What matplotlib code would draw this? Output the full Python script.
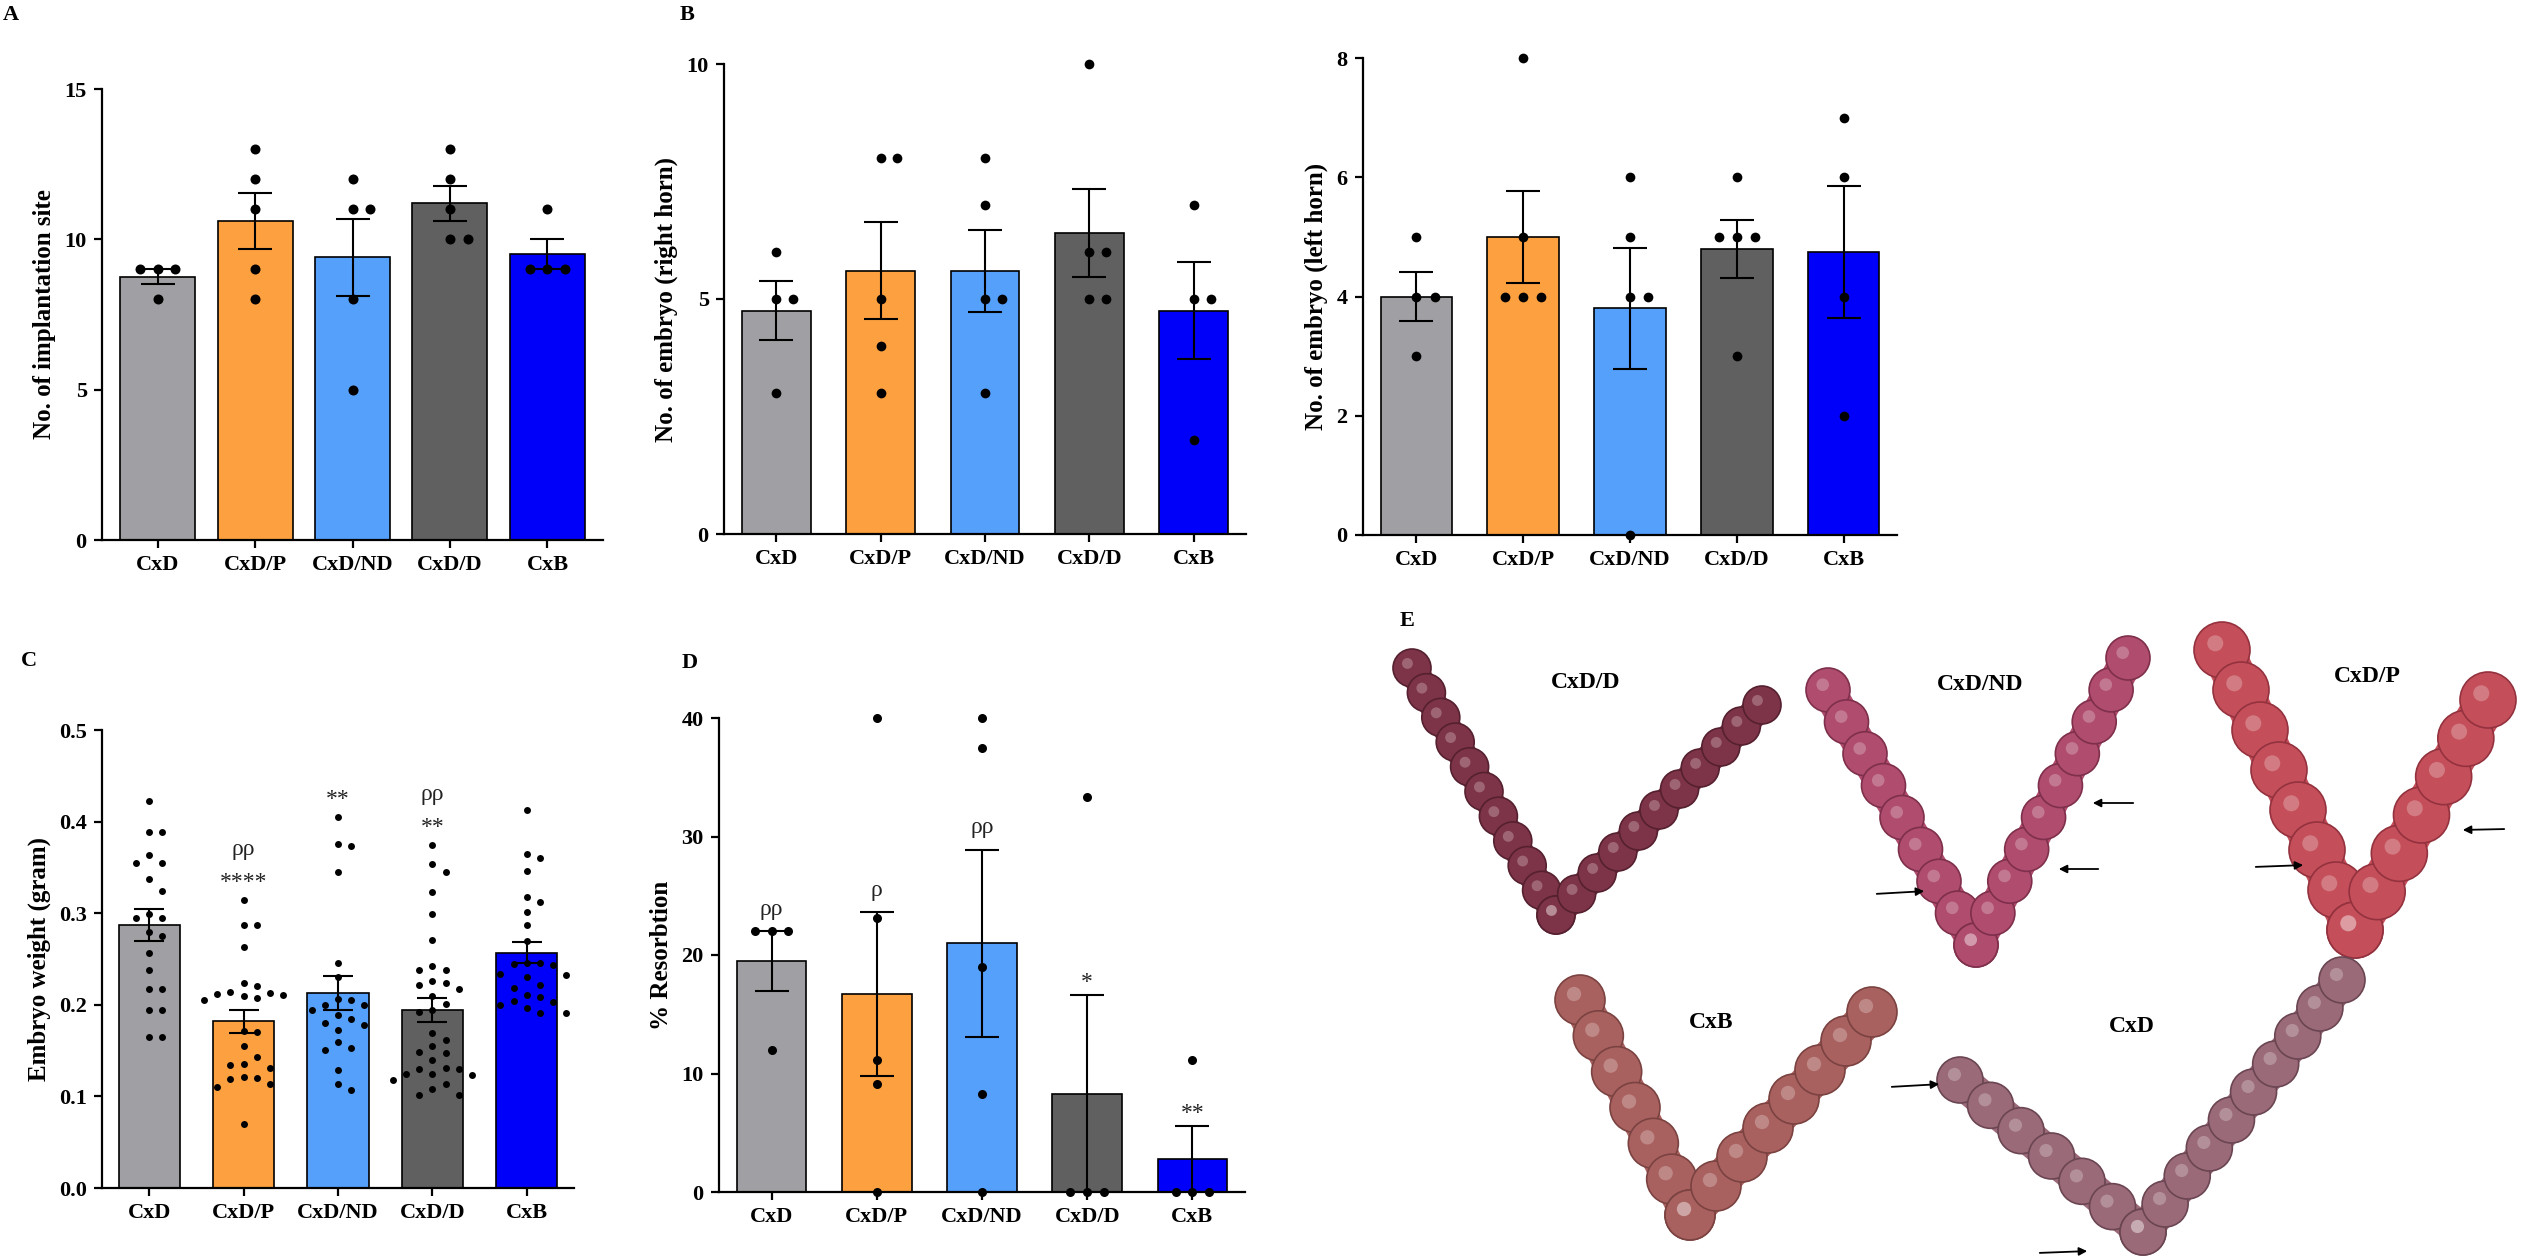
import numpy as np
import matplotlib
matplotlib.use("Agg")
import matplotlib.pyplot as plt
from matplotlib.patches import Circle

plt.rcParams['font.family'] = ['Liberation Serif', 'DejaVu Serif']

# ---------------- data ----------------
categories = ["CxD", "CxD/P", "CxD/ND", "CxD/D", "CxB"]
bar_colors = ["#a0a0a4", "#fda040", "#55a0fb", "#606060", "#0000fa"]

# A: number of implantation sites
implant_pts = [[9, 9, 9, 8], [13, 12, 11, 9, 8], [12, 11, 11, 8, 5],
               [13, 12, 11, 10, 10], [11, 9, 9, 9]]
implant_mean = [8.75, 10.6, 9.4, 11.2, 9.5]
implant_sem = [0.25, 0.93, 1.29, 0.58, 0.50]

# B: embryos right horn
right_pts = [[6, 5, 5, 3], [8, 8, 5, 4, 3], [8, 7, 5, 5, 3],
             [10, 6, 6, 5, 5], [7, 5, 5, 2]]
right_mean = [4.75, 5.6, 5.6, 6.4, 4.75]
right_sem = [0.63, 1.03, 0.87, 0.93, 1.03]

# B: embryos left horn
left_pts = [[5, 4, 4, 3], [8, 5, 4, 4, 4], [6, 5, 4, 4, 0],
            [6, 5, 5, 5, 3], [7, 6, 4, 2]]
left_mean = [4.0, 5.0, 3.8, 4.8, 4.75]
left_sem = [0.41, 0.77, 1.02, 0.49, 1.11]

# C: embryo weight (gram)
weight_pts = [
    [0.422, 0.389, 0.389, 0.364, 0.355, 0.355, 0.337, 0.324, 0.299, 0.295,
     0.295, 0.280, 0.275, 0.257, 0.238, 0.217, 0.217, 0.194, 0.194, 0.165, 0.165],
    [0.314, 0.287, 0.287, 0.263, 0.224, 0.221, 0.214, 0.213, 0.212, 0.211,
     0.210, 0.207, 0.205, 0.171, 0.170, 0.155, 0.143, 0.135, 0.134, 0.131,
     0.121, 0.120, 0.119, 0.113, 0.110, 0.070],
    [0.405, 0.376, 0.373, 0.345, 0.246, 0.230, 0.206, 0.205, 0.200, 0.200,
     0.194, 0.189, 0.185, 0.180, 0.178, 0.173, 0.159, 0.153, 0.151, 0.129,
     0.114, 0.107],
    [0.374, 0.354, 0.345, 0.323, 0.299, 0.271, 0.242, 0.238, 0.238, 0.226,
     0.224, 0.222, 0.217, 0.210, 0.201, 0.194, 0.192, 0.169, 0.162, 0.155,
     0.149, 0.147, 0.140, 0.131, 0.130, 0.130, 0.125, 0.124, 0.123, 0.118,
     0.114, 0.108, 0.102, 0.101],
    [0.413, 0.365, 0.360, 0.346, 0.318, 0.312, 0.301, 0.287, 0.270, 0.246,
     0.246, 0.244, 0.243, 0.234, 0.233, 0.230, 0.222, 0.218, 0.211, 0.208,
     0.204, 0.203, 0.200, 0.197, 0.191, 0.191]]
weight_mean = [0.287, 0.182, 0.213, 0.194, 0.257]
weight_sem = [0.0175, 0.0123, 0.0183, 0.0133, 0.0117]
weight_sig_star = ["", "****", "**", "**", ""]
weight_sig_rho = ["", "ρρ", "", "ρρ", ""]

# D: % resorption
resorb_pts = [[22.0, 22.0, 22.0, 12.0], [40.0, 23.1, 11.1, 9.1, 0.0],
              [40.0, 37.5, 19.0, 8.3, 0.0], [33.3, 0.0, 0.0, 0.0],
              [11.1, 0.0, 0.0, 0.0]]
resorb_mean = [19.5, 16.7, 21.0, 8.3, 2.8]
resorb_sem = [2.5, 6.9, 7.9, 8.3, 2.8]
resorb_sig_star = ["", "", "", "*", "**"]
resorb_sig_rho = ["ρρ", "ρ", "ρρ", "", ""]

# E: photo panel labels
photo_labels = ["CxD/D", "CxD/ND", "CxD/P", "CxB", "CxD"]

# ---------------- figure ----------------
W, H = 2528, 1259
fig = plt.figure(figsize=(W / 100, H / 100), dpi=100)


def rect(x0, y0, x1, y1):
    return [x0 / W, 1 - y1 / H, (x1 - x0) / W, (y1 - y0) / H]


def swarm(vals, u_px, py):
    placed, out = [], []
    for v in vals:
        yp = v * py
        xp = 0.0
        for k in [0, 1, -1, 2, -2, 3, -3, 4, -4, 5, -5]:
            xp = k * u_px
            if all((xp - a) ** 2 + (yp - b) ** 2 >= (0.93 * u_px) ** 2 for a, b in placed):
                break
        placed.append((xp, yp))
        out.append(xp)
    return np.array(out)


def bar_panel(r, pts, means, sems, ylim, yticks, yticklabels, ylabel,
              barw, xpad, unit, msize, capsize):
    ax = fig.add_axes(rect(*r))
    x = np.arange(len(categories))
    ax.bar(x, means, width=barw, color=bar_colors, edgecolor="black",
           linewidth=1.2, zorder=2)
    ax.errorbar(x, means, yerr=sems, fmt="none", ecolor="black",
                elinewidth=1.5, capsize=capsize, capthick=1.5, zorder=3)
    ax.set_xlim(-xpad, len(categories) - 1 + xpad)
    ax.set_ylim(*ylim)
    px_per_x = (r[2] - r[0]) / (len(categories) - 1 + 2 * xpad)
    px_per_y = (r[3] - r[1]) / (ylim[1] - ylim[0])
    for i, vals in enumerate(pts):
        xs = swarm(vals, unit * px_per_x, px_per_y)
        ax.plot(i + xs / px_per_x, vals, "o", color="black", ms=msize,
                mew=0, clip_on=False, zorder=4)
    ax.set_xticks(x)
    ax.set_xticklabels(categories)
    ax.set_yticks(yticks)
    ax.set_yticklabels(yticklabels)
    for s in ["top", "right"]:
        ax.spines[s].set_visible(False)
    for s in ["left", "bottom"]:
        ax.spines[s].set_linewidth(1.6)
    ax.tick_params(axis="both", direction="out", length=6, width=1.6,
                   labelsize=16, pad=5)
    for lab in ax.get_xticklabels() + ax.get_yticklabels():
        lab.set_fontweight("bold")
    ax.set_ylabel(ylabel, fontsize=18, fontweight="bold", labelpad=6)
    return ax


def sig(ax, i, anchor, text, off_pts):
    if text:
        ax.annotate(text, (i, anchor), xytext=(0, off_pts),
                    textcoords="offset points", ha="center", va="baseline",
                    fontsize=17, color="#222222", annotation_clip=False)


# Panel A
bar_panel((102, 89, 603, 540), implant_pts, implant_mean, implant_sem,
          (0, 15), [0, 5, 10, 15], ["0", "5", "10", "15"],
          "No. of implantation site", 0.77, 0.57, 0.18, 7.2, 12.5)

# Panel B right horn
bar_panel((724, 64, 1246, 534), right_pts, right_mean, right_sem,
          (0, 10), [0, 5, 10], ["0", "5", "10"],
          "No. of embryo (right horn)", 0.66, 0.5, 0.16, 7.0, 12)

# Panel B left horn
bar_panel((1363, 58, 1897, 535), left_pts, left_mean, left_sem,
          (0, 8), [0, 2, 4, 6, 8], ["0", "2", "4", "6", "8"],
          "No. of embryo (left horn)", 0.67, 0.5, 0.17, 7.0, 12)

# Panel C
axC = bar_panel((102, 730, 574, 1188), weight_pts, weight_mean, weight_sem,
                (0, 0.5), [0, 0.1, 0.2, 0.3, 0.4, 0.5],
                ["0.0", "0.1", "0.2", "0.3", "0.4", "0.5"],
                "Embryo weight (gram)", 0.65, 0.5, 0.14, 5.0, 11)
for i in range(len(categories)):
    top = max(weight_pts[i])
    sig(axC, i, top, weight_sig_star[i], 9)
    sig(axC, i, top, weight_sig_rho[i], 33)

# Panel D
axD = bar_panel((719, 718, 1245, 1192), resorb_pts, resorb_mean, resorb_sem,
                (0, 40), [0, 10, 20, 30, 40], ["0", "10", "20", "30", "40"],
                "% Resorbtion", 0.66, 0.5, 0.16, 6.5, 12.5)
for i in range(len(categories)):
    top = resorb_mean[i] + resorb_sem[i]
    sig(axD, i, top, resorb_sig_star[i], 5)
    sig(axD, i, top, resorb_sig_rho[i], 12)

# Panel letters
for lab, (px, py) in zip("ABCDE", [(11, 15), (687, 15), (29, 661), (690, 663), (1407, 621)]):
    fig.text(px / W, 1 - py / H, lab, ha="center", va="center",
             fontsize=16, fontweight="bold")

# Panel E: schematic uteri (photograph stand-in)
axE = fig.add_axes(rect(1340, 580, 2528, 1259))
axE.set_xlim(1340, 2528)
axE.set_ylim(1259, 580)
axE.axis("off")

uteri = [
    ([(1412, 668), (1556, 915), (1762, 705)], 38, "#7e3448", "#55202f"),
    ([(1828, 690), (1976, 945), (2128, 658)], 44, "#b04c6e", "#7e2f4c"),
    ([(2222, 650), (2355, 930), (2488, 700)], 56, "#c44f5a", "#93323e"),
    ([(1580, 1000), (1690, 1215), (1872, 1012)], 50, "#a9615f", "#7a4240"),
    ([(1960, 1080), (2143, 1232), (2342, 980)], 46, "#9a6a78", "#6b4552"),
]
for path, wdt, fc, ec in uteri:
    for (xa, ya), (xb, yb) in zip(path[:-1], path[1:]):
        L = np.hypot(xb - xa, yb - ya)
        n = int(L / (wdt * 0.75)) + 1
        axE.plot([xa, xb], [ya, yb], color=fc, lw=wdt * 0.55,
                 solid_capstyle="round", zorder=1)
        for t in np.linspace(0, 1, n):
            axE.add_patch(Circle((xa + t * (xb - xa), ya + t * (yb - ya)),
                                 wdt / 2, facecolor=fc, edgecolor=ec,
                                 lw=1.2, zorder=2))
            axE.add_patch(Circle((xa + t * (xb - xa) - wdt * 0.12,
                                  ya + t * (yb - ya) - wdt * 0.12),
                                 wdt / 7, facecolor="white", alpha=0.25,
                                 edgecolor="none", zorder=3))

label_pos = [(1586, 682), (1980, 684), (2367, 677), (1711, 1022), (2132, 1026)]
for txt, (lx, ly) in zip(photo_labels, label_pos):
    axE.text(lx, ly, txt, ha="center", va="center", fontsize=17,
             fontweight="bold", zorder=5)

arrows = [((2136, 803), (2090, 803)), ((2101, 869), (2056, 869)),
          ((1874, 894), (1927, 891)), ((2507, 829), (2460, 830)),
          ((2253, 867), (2306, 865)), ((1889, 1087), (1942, 1084)),
          ((2037, 1253), (2090, 1251))]
for tail, head in arrows:
    axE.annotate("", xy=head, xytext=tail,
                 arrowprops=dict(arrowstyle="-|>", color="black", lw=1.3,
                                 mutation_scale=12), zorder=6)

fig.savefig("out.png", dpi=100, facecolor="white")
